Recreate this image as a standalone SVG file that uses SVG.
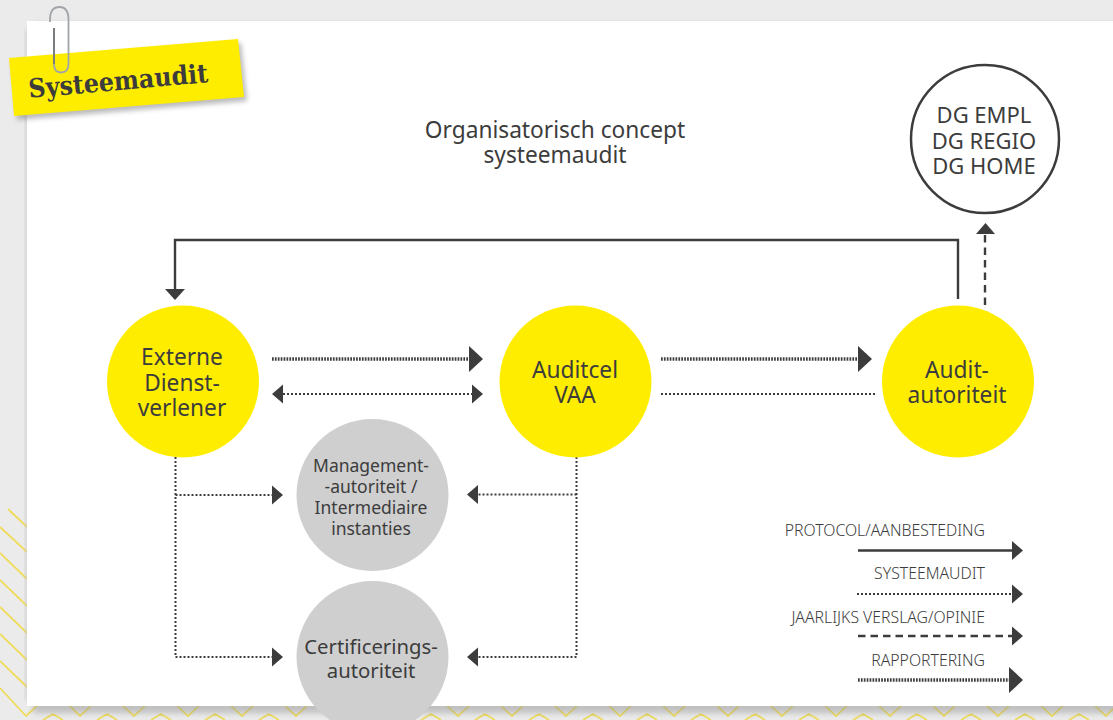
<svg xmlns="http://www.w3.org/2000/svg" width="1113" height="720" viewBox="0 0 1113 720">
<style>
text{font-family:"Noto Sans","Liberation Sans",sans-serif;fill:#3c3c3c;text-anchor:middle}
.big{font-size:22.700px}.dgt{font-size:22px}.mid{font-size:17.500px}.cert{font-size:20.300px}.leg{font-size:15.800px;text-anchor:end;font-weight:300}
.yellow{fill:#ffed00}.gray{fill:#cfcfcf}
.line{fill:none;stroke:#3c3c3c}
.solid{stroke-width:2.4}
.dot{stroke-width:2;stroke-dasharray:2 2}
.dash{stroke-width:2.4;stroke-dasharray:7.5 5}
.rap{stroke-width:3.4;stroke-dasharray:1.7 1.2}
.chev{fill:none;stroke:#efdc5c;stroke-width:1.8}
</style>
<defs>
<marker id="hb" markerUnits="userSpaceOnUse" markerWidth="15" markerHeight="27" refX="0" refY="13.5" orient="auto"><path d="M0 0.5L14 13.5L0 26.5Z" fill="#3c3c3c"/></marker>
<marker id="hs" markerUnits="userSpaceOnUse" markerWidth="12" markerHeight="20" refX="0" refY="10" orient="auto-start-reverse"><path d="M0 .5L11 10L0 19.5Z" fill="#3c3c3c"/></marker>
<filter id="sh" x="-10%" y="-30%" width="120%" height="160%"><feGaussianBlur stdDeviation="2.5"/></filter>
<filter id="ps" x="-5%" y="-5%" width="110%" height="110%"><feGaussianBlur stdDeviation="3"/></filter>
</defs>
<rect width="1113" height="720" fill="#ebebeb"/>
<g id="pattern">
<path class="chev" d="M8 509L27 527M0 527L27 552M0 553L27 579M0 580L27 606M0 607L27 633M0 634L27 660M0 661L27 687M0 688L26 716L50 694"/>
<path class="chev" d="M70 706L80 716L91 706M123 706L134 716L145 706M177 706L188 716L199 706M231 706L242 716L253 706M285 706L296 716L307 706M339 706L350 716L361 706M447 706L458 716L469 706M501 706L512 716L523 706M555 706L566 716L577 706M609 706L620 716L631 706M663 706L674 716L685 706M717 706L728 716L739 706M771 706L782 716L793 706M825 706L836 716L847 706M879 706L890 716L901 706M933 706L944 716L955 706M987 706L998 716L1009 706M1041 706L1052 716L1063 706M1095 706L1106 716L1113 709"/>
<path class="chev" d="M43 720L53 714L63 720M97 720L107 714L117 720M151 720L161 714L171 720M205 720L215 714L225 720M259 720L269 714L279 720M421 720L431 714L441 720M475 720L485 714L495 720M529 720L539 714L549 720M583 720L593 714L603 720M637 720L647 714L657 720M691 720L701 714L711 720M745 720L755 714L765 720M799 720L809 714L819 720M853 720L863 714L873 720M907 720L917 714L927 720M961 720L971 714L981 720M1015 720L1025 714L1035 720M1069 720L1079 714L1089 720"/>
</g>
<rect x="33" y="24" width="1090" height="689" fill="#9a9a9a" opacity=".55" filter="url(#ps)"/>
<rect x="25" y="30" width="6" height="670" fill="#bdbdbd" opacity=".5" filter="url(#sh)"/>
<rect id="page" x="27" y="21" width="1086" height="685" fill="#fff"/>
<g id="note">
<path d="M12 62L241 43L247 101L17 120Z" fill="#777" opacity=".5" filter="url(#sh)"/>
<path class="yellow" d="M9 58L238 39L244 97L14 116Z"/>
<text x="119" y="90" transform="rotate(-5 119 90)" style="font-family:'DejaVu Serif',serif;font-weight:700;font-size:26px" textLength="180" lengthAdjust="spacingAndGlyphs">Systeemaudit</text>
</g>
<g id="clip"><path d="M50 22V20Q50 7 59.500 7Q68.500 7 68.500 20V64Q68.500 72.500 61 72.500Q54 72.500 54 64V28" fill="none" stroke="#a2a5a8" stroke-width="1.800"/><path d="M54 64V28" fill="none" stroke="#6e7174" stroke-width="1.600"/></g>
<g id="title"><text class="big" x="555" y="138">Organisatorisch concept</text><text class="big" x="555" y="163">systeemaudit</text></g>
<g id="connectors">
<path class="line solid" d="M958 299V240H175V289" />
<path d="M165 289H185L175 300Z" fill="#3c3c3c"/>
<path class="line dash" d="M985 305V234"/>
<path d="M976 234H995L985.500 223Z" fill="#3c3c3c"/>
<path class="line rap" d="M272 359H469" marker-end="url(#hb)"/>
<path class="line dot" d="M283 394H472" marker-start="url(#hs)" marker-end="url(#hs)"/>
<path class="line rap" d="M661 359H858" marker-end="url(#hb)"/>
<path class="line dot" d="M661 394H876"/>
<path class="line dot" d="M175.500 457V657H272" marker-end="url(#hs)"/>
<path class="line dot" d="M175.500 495H272" marker-end="url(#hs)"/>
<path class="line dot" d="M576.500 457V657H478" marker-end="url(#hs)"/>
<path class="line dot" d="M576.500 494.500H478" marker-end="url(#hs)"/>
<path class="line solid" d="M858 550.500H1012" marker-end="url(#hs)"/>
<path class="line dot" d="M857 594H1012" marker-end="url(#hs)"/>
<path class="line dash" d="M858 636H1012" marker-end="url(#hs)"/>
<path class="line rap" d="M858 680H1009" marker-end="url(#hb)"/>
</g>
<g id="dg"><circle cx="985" cy="139" r="74" fill="#fff" stroke="#3c3c3c" stroke-width="2.500"/><text class="dgt" x="984" y="123">DG EMPL</text><text class="dgt" x="984" y="149">DG REGIO</text><text class="dgt" x="984" y="174">DG HOME</text></g>
<g id="externe"><circle class="yellow" cx="183" cy="381.500" r="76"/><text class="big" x="182" y="365">Externe</text><text class="big" x="182" y="391">Dienst-</text><text class="big" x="182" y="416">verlener</text></g>
<g id="auditcel"><circle class="yellow" cx="575.500" cy="381.500" r="76"/><text class="big" x="575" y="378">Auditcel</text><text class="big" x="575" y="403">VAA</text></g>
<g id="audit"><circle class="yellow" cx="958" cy="381.500" r="76"/><text class="big" x="957" y="378">Audit-</text><text class="big" x="957" y="403">autoriteit</text></g>
<g id="management"><circle class="gray" cx="372.500" cy="495" r="76"/><text class="mid" x="371" y="472">Management-</text><text class="mid" x="371" y="493">-autoriteit /</text><text class="mid" x="371" y="514">Intermediaire</text><text class="mid" x="371" y="535">instanties</text></g>
<g id="certificering"><circle class="gray" cx="372.500" cy="657" r="76"/><text class="cert" x="371" y="654">Certificerings-</text><text class="cert" x="371" y="678">autoriteit</text></g>
<g id="legend"><text class="leg" x="985" y="536">PROTOCOL/AANBESTEDING</text><text class="leg" x="985" y="579">SYSTEEMAUDIT</text><text class="leg" x="985" y="623">JAARLIJKS VERSLAG/OPINIE</text><text class="leg" x="985" y="666">RAPPORTERING</text></g>
</svg>
